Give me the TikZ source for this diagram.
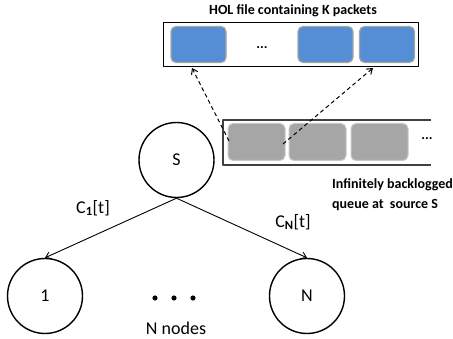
\documentclass[tikz,border=0pt]{standalone}
\usepackage{fontspec}
\setmainfont{Carlito}
\usetikzlibrary{arrows.meta}
\definecolor{pktblue}{RGB}{85,142,213}
\definecolor{pktgray}{RGB}{166,166,166}
\definecolor{rimgray}{RGB}{200,200,200}
\newcommand{\bigfont}{\fontsize{18}{20}\selectfont}
\newcommand{\midfont}{\fontsize{14}{20}\selectfont}

\begin{document}
\begin{tikzpicture}[x=1pt,y=-1pt,line join=round,
  usernode/.style={draw,circle,line width=1.4pt,minimum size=75pt,inner sep=0pt,font=\bigfont},
  bluepkt/.style={draw=pktgray,fill=pktblue,line width=1.2pt,rounded corners=5pt,
    minimum width=55pt,minimum height=36pt,inner sep=0pt},
  graypkt/.style={draw=rimgray,fill=pktgray,line width=1pt,rounded corners=5pt,
    minimum width=57pt,minimum height=37pt,inner sep=0pt},
  link/.style={-{Straight Barb[length=5pt,width=7pt]},line width=0.9pt},
  fetch/.style={link,dash pattern=on 4pt off 3pt,line width=1pt}]
  \useasboundingbox (0,0) rectangle (453,339);

  % head-of-line file
  \draw[line width=1pt] (163,23) rectangle (418,67);
  \node[font=\midfont\bfseries] (holtitle) at (293,11) {HOL file containing K packets};
  \node[bluepkt] (b1) at (198.5,44.5) {};
  \node[bluepkt] (b2) at (325.5,44.5) {};
  \node[bluepkt] (b3) at (387,44.5) {};
  \node[font=\midfont\bfseries] (holdots) at (262,48) {...};

  % backlogged queue
  \draw[black!75,line width=1.3pt] (431,120) -- (223,120) -- (223,165) -- (431,165);
  \foreach \x [count=\i] in {256.5,317.5,379.5}
    \node[graypkt] (g\i) at (\x,142) {};
  \node[font=\midfont\bfseries] (qdots) at (427,139) {...};
  \node[font=\midfont\bfseries,align=left,anchor=north west,inner sep=0pt]
    (qlabel) at (332,178) {Infinitely backlogged\\queue at\ \ source S};

  \coordinate (src1) at (229,141);
  \coordinate (src2) at (283,144);
  \coordinate (dst1) at (192,68);
  \coordinate (dst2) at (373,68);
  \draw[fetch] (src1) -- (dst1);
  \draw[fetch] (src2) -- (dst2);

  % source and users
  \node[usernode] (s) at (176.5,160) {S};
  \node[usernode] (u1) at (45,296) {1};
  \node[usernode] (un) at (307,296) {N};
  \draw[link] (s.south) -- (u1.north);
  \draw[link] (s.south) -- (un.north);
  \node[font=\bigfont] (c1) at (93,208) {C\textsubscript{\textbf{1}}[t]};
  \node[font=\bigfont] (cn) at (293,222) {C\textsubscript{\textbf{N}}[t]};

  \foreach \x [count=\i] in {155,174,193}
    \fill (\x,298) circle (2.6) coordinate (d\i);
  \node[font=\bigfont] (nlabel) at (176,328) {N nodes};
\end{tikzpicture}
\end{document}
